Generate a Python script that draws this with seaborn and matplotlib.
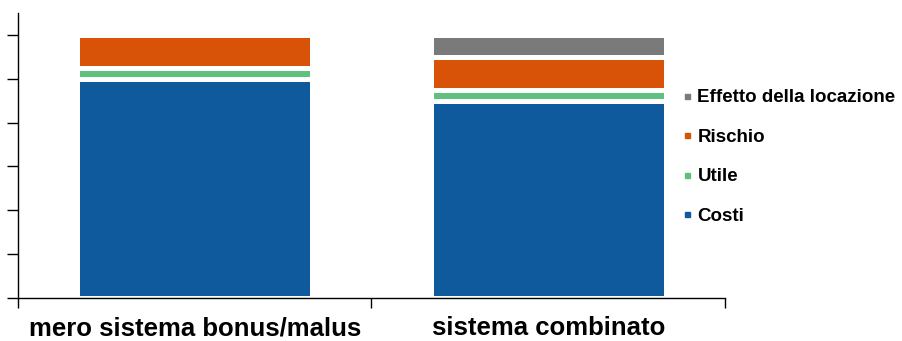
import matplotlib
matplotlib.use("Agg")
import matplotlib.pyplot as plt
from matplotlib.lines import Line2D
import seaborn as sns
import pandas as pd
import numpy as np

# Data
categories = ["mero sistema bonus/malus", "sistema combinato"]
costi = [100, 90]
utile = [5, 5]
rischio = [15, 15]
effetto = [0, 10]
series_names = ["Costi", "Utile", "Rischio", "Effetto della locazione"]
colors = ["#0E5A9C", "#5FC080", "#D85208", "#7A7A7A"]

sns.set_theme(style="white")
plt.rcParams["font.family"] = ["Liberation Sans", "DejaVu Sans"]
plt.rcParams["text.color"] = "black"
plt.rcParams["xtick.color"] = "black"
plt.rcParams["ytick.color"] = "black"

fig = plt.figure(figsize=(9.03, 3.41), dpi=100)
ax = fig.add_axes([18 / 903, 42.7 / 341, (725 - 18) / 903, (298.3 - 12.7) / 341])

layers = [costi, utile, rischio, effetto]
cum = np.cumsum(np.array(layers), axis=0)

# Draw cumulative totals from the top layer down, so each segment sits above the previous
for i in range(len(layers) - 1, -1, -1):
    df = pd.DataFrame({"cat": categories, "val": cum[i]})
    sns.barplot(data=df, x="cat", y="val", color=colors[i], saturation=1,
                width=0.665, edgecolor="white", linewidth=3.6, ax=ax)

ax.set_xlim(-0.5, 1.5)
ax.set_ylim(0, 130)
ax.set_yticks(np.arange(0, 121, 20))
ax.set_yticklabels([])
ax.set_xlabel("")
ax.set_ylabel("")

# Category labels centred on bars, tick marks at category boundaries
ax.set_xticks([0, 1])
ax.set_xticklabels(categories, fontsize=18.5, fontweight="bold", color="black")
ax.tick_params(axis="x", which="major", length=0, pad=13)
ax.set_xticks([-0.5, 0.5, 1.5], minor=True)
ax.tick_params(axis="x", which="minor", bottom=True, length=7, width=1,
               color="black", direction="out")
ax.tick_params(axis="y", length=8, width=1, color="black", direction="out", left=True)

for side in ["top", "right"]:
    ax.spines[side].set_visible(False)
for side in ["left", "bottom"]:
    ax.spines[side].set_color("black")
    ax.spines[side].set_linewidth(1)

handles = [Line2D([], [], marker="s", linestyle="", markersize=3.6,
                  markerfacecolor=colors[i], markeredgecolor=colors[i],
                  label=series_names[i]) for i in range(3, -1, -1)]
leg = fig.legend(handles=handles, loc="center left", bbox_to_anchor=(675 / 903, 0.5395),
                 frameon=False, prop={"weight": "bold", "size": 13.5},
                 labelspacing=1.2, handlelength=0.5, handletextpad=0.3, borderaxespad=0)
for t in leg.get_texts():
    t.set_color("black")

fig.savefig("out.png", dpi=100)
